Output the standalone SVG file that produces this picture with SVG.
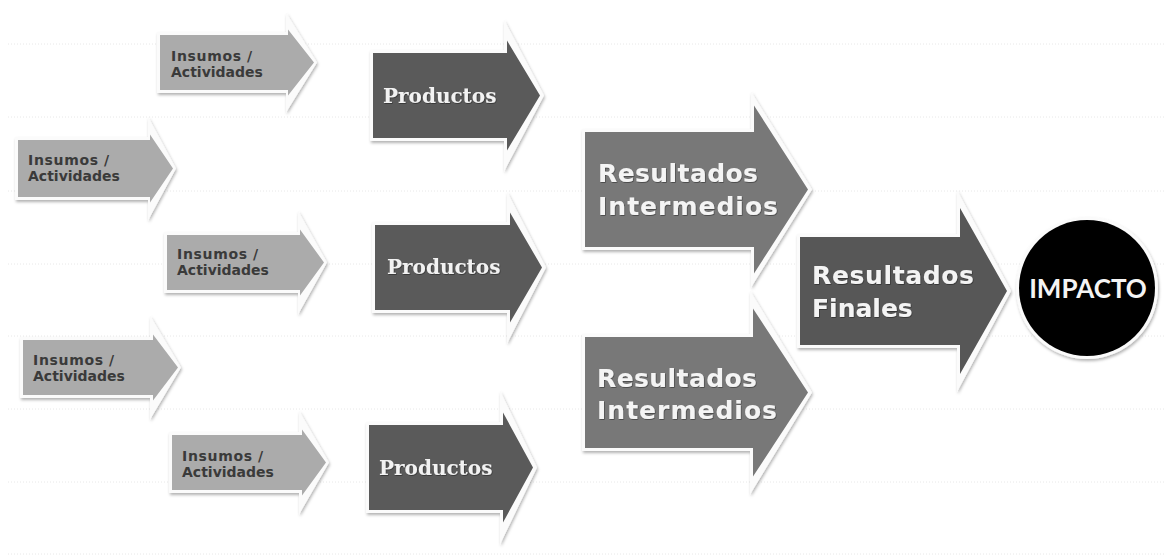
<svg xmlns="http://www.w3.org/2000/svg" width="1171" height="556" viewBox="0 0 1171 556">
<defs>
<filter id="sh" x="-20%" y="-20%" width="140%" height="140%">
<feDropShadow dx="1" dy="2" stdDeviation="1.6" flood-color="#000" flood-opacity="0.3"/>
</filter>
<filter id="tsh" x="-10%" y="-30%" width="120%" height="160%">
<feDropShadow dx="0.6" dy="0.8" stdDeviation="0.6" flood-color="#000" flood-opacity="0.45"/>
</filter>
<style>
.grid{stroke:#e8e8e8;stroke-width:1;stroke-dasharray:1 2;fill:none}
.rim{fill:#fbfbfb;filter:url(#sh)}
.ins{fill:#ababab}
.prod{fill:#5a5a5a}
.ri{fill:#787878}
.rf{fill:#575757}
.tins{font-family:"DejaVu Sans",Verdana,sans-serif;font-weight:bold;font-size:14px;fill:#3a3a3a}
.tprod{font-family:"DejaVu Serif","Liberation Serif",serif;font-weight:bold;font-size:20px;fill:#f2f2f2;filter:url(#tsh)}
.tres{font-family:"DejaVu Sans",Verdana,sans-serif;font-weight:bold;font-size:25px;fill:#f4f4f4;filter:url(#tsh)}
.timp{font-family:Lato,"Open Sans",sans-serif;font-weight:bold;font-size:26px;fill:#f4f4f4}
</style>
</defs>
<rect width="1171" height="556" fill="#ffffff"/>
<g id="grid">
<line class="grid" x1="8" y1="44" x2="1165" y2="44"/>
<line class="grid" x1="8" y1="117" x2="1165" y2="117"/>
<line class="grid" x1="8" y1="191" x2="1165" y2="191"/>
<line class="grid" x1="8" y1="264" x2="1165" y2="264"/>
<line class="grid" x1="8" y1="336" x2="1165" y2="336"/>
<line class="grid" x1="8" y1="409" x2="1165" y2="409"/>
<line class="grid" x1="8" y1="482" x2="1165" y2="482"/>
<line class="grid" x1="8" y1="554" x2="1165" y2="554"/>
</g>
<g id="connectors"></g>

<g id="insumos1">
<path class="rim" d="M157,32 H286 V12.5 L317,62.5 L286,112.5 V93 H157 Z"/>
<path class="ins" d="M160,35 H288 V29.5 L314,62.5 L288,95.5 V90 H160 Z"/>
<text class="tins" x="171" y="61"><tspan textLength="70" lengthAdjust="spacing">Insumos</tspan> <tspan x="247">/</tspan></text>
<text class="tins" x="171" y="77">Actividades</text>
</g>
<g id="insumos2">
<path class="rim" d="M15,137 H148 V116.5 L176,168.5 L148,220.5 V200 H15 Z"/>
<path class="ins" d="M18,140 H150 V134.5 L173,168.5 L150,202.5 V197 H18 Z"/>
<text class="tins" x="28" y="165"><tspan textLength="70" lengthAdjust="spacing">Insumos</tspan> <tspan x="104">/</tspan></text>
<text class="tins" x="28" y="181">Actividades</text>
</g>
<g id="insumos3">
<path class="rim" d="M164,232 H298 V210.5 L327,262.5 L298,314.5 V293 H164 Z"/>
<path class="ins" d="M167,235 H300 V229.5 L324,262.5 L300,295.5 V290 H167 Z"/>
<text class="tins" x="177" y="259"><tspan textLength="70" lengthAdjust="spacing">Insumos</tspan> <tspan x="253">/</tspan></text>
<text class="tins" x="177" y="275">Actividades</text>
</g>
<g id="insumos4">
<path class="rim" d="M20,337 H150 V315.5 L181,367.5 L150,419.5 V398 H20 Z"/>
<path class="ins" d="M23,340 H153 V334.5 L178,367.5 L153,400.5 V395 H23 Z"/>
<text class="tins" x="33" y="365"><tspan textLength="70" lengthAdjust="spacing">Insumos</tspan> <tspan x="109">/</tspan></text>
<text class="tins" x="33" y="381">Actividades</text>
</g>
<g id="insumos5">
<path class="rim" d="M169,432 H299 V410.5 L329,462.5 L299,514.5 V493 H169 Z"/>
<path class="ins" d="M172,435 H302 V429.5 L326,462.5 L302,495.5 V490 H172 Z"/>
<text class="tins" x="182" y="461"><tspan textLength="70" lengthAdjust="spacing">Insumos</tspan> <tspan x="258">/</tspan></text>
<text class="tins" x="182" y="477">Actividades</text>
</g>

<g id="productos1">
<path class="rim" d="M370,50 H504 V19.5 L544,95.5 L504,171.5 V141 H370 Z"/>
<path class="prod" d="M373,53 H507 V40.5 L540,95.5 L507,150.5 V138 H373 Z"/>
<text class="tprod" x="383" y="103">Productos</text>
</g>
<g id="productos2">
<path class="rim" d="M372,222 H507 V191.5 L546,267.5 L507,343.5 V313 H372 Z"/>
<path class="prod" d="M375,225 H510 V212.5 L542,267.5 L510,322.5 V310 H375 Z"/>
<text class="tprod" x="387" y="274">Productos</text>
</g>
<g id="productos3">
<path class="rim" d="M366,422 H500 V390.5 L537,467.5 L500,544.5 V513 H366 Z"/>
<path class="prod" d="M369,425 H503 V412.5 L533,467.5 L503,522.5 V510 H369 Z"/>
<text class="tprod" x="379" y="475">Productos</text>
</g>

<g id="resultados-intermedios1">
<path class="rim" d="M582,129 H751 V91.5 L812,189.5 L751,287.5 V250 H582 Z"/>
<path class="ri" d="M585,132 H754 V105.5 L808,189.5 L754,273.5 V247 H585 Z"/>
<text class="tres" x="598" y="182" textLength="160" lengthAdjust="spacing">Resultados</text>
<text class="tres" x="598" y="215" textLength="180" lengthAdjust="spacing">Intermedios</text>
</g>
<g id="resultados-intermedios2">
<path class="rim" d="M582,334 H750 V290.5 L812,392.5 L750,494.5 V451 H582 Z"/>
<path class="ri" d="M585,337 H753 V308.5 L808,392.5 L753,476.5 V448 H585 Z"/>
<text class="tres" x="597" y="387" textLength="160" lengthAdjust="spacing">Resultados</text>
<text class="tres" x="597" y="419" textLength="180" lengthAdjust="spacing">Intermedios</text>
</g>

<g id="resultados-finales">
<path class="rim" d="M797,234 H957 V190 L1011,291 L957,392 V348 H797 Z"/>
<path class="rf" d="M800,237 H960 V208 L1007,291 L960,374 V345 H800 Z"/>
<text class="tres" x="812" y="284" textLength="162" lengthAdjust="spacing">Resultados</text>
<text class="tres" x="812" y="317">Finales</text>
</g>

<g id="impacto">
<circle cx="1087" cy="288" r="71" fill="#fbfbfb" filter="url(#sh)"/>
<circle cx="1087" cy="288" r="68" fill="#000000"/>
<text class="timp" x="1088" y="298" text-anchor="middle">IMPACTO</text>
</g>
</svg>
